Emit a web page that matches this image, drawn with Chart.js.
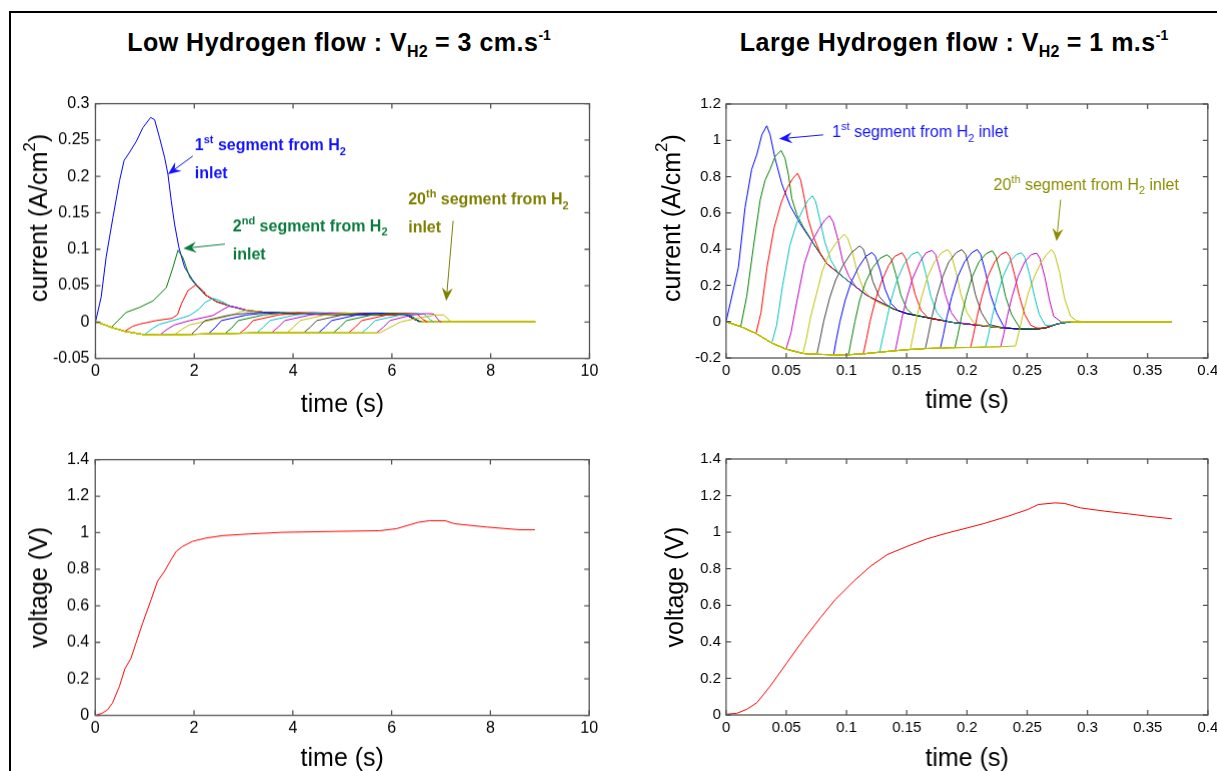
<!DOCTYPE html>
<html><head><meta charset="utf-8">
<script src="https://cdn.jsdelivr.net/npm/chart.js@4.4.0/dist/chart.umd.min.js"></script>
<style>
html,body{margin:0;padding:0;background:#fff;width:1217px;height:771px;overflow:hidden;position:relative;font-family:"Liberation Sans",Arial,sans-serif}
.frame{position:absolute;left:9px;top:11px;width:1230px;height:790px;border-top:2px solid #000;border-left:2px solid #000}
.panel{position:absolute;left:0;top:0}
.title{position:absolute;font-weight:bold;font-size:25px;letter-spacing:0.5px;white-space:nowrap;transform:translateX(-50%);color:#000;line-height:30px}
.title sub{font-size:16px;vertical-align:-6px;letter-spacing:0}
.title sup{font-size:14px;vertical-align:11px;letter-spacing:0}
</style></head><body>
<div class="frame"></div>
<div class="title" style="left:339px;top:20px">Low Hydrogen flow : V<sub>H2</sub> = 3 cm.s<sup>-1</sup></div>
<div class="title" style="left:954px;top:20px">Large Hydrogen flow : V<sub>H2</sub> = 1 m.s<sup>-1</sup></div>
<div class="panel" id="pTL"><canvas></canvas></div>
<div class="panel" id="pTR"><canvas></canvas></div>
<div class="panel" id="pBL"><canvas></canvas></div>
<div class="panel" id="pBR"><canvas></canvas></div>
<script>
// ---------- tick values and labels ----------
const lowTimeTicks = [0,2,4,6,8,10];
const lowTimeLabels = ['0','2','4','6','8','10'];
const largeTimeTicks = [0,0.05,0.1,0.15,0.2,0.25,0.3,0.35,0.4];
const largeTimeLabels = ['0','0.05','0.1','0.15','0.2','0.25','0.3','0.35','0.4'];
const lowCurrentTicks = [-0.05,0,0.05,0.1,0.15,0.2,0.25,0.3];
const lowCurrentLabels = ['-0.05','0','0.05','0.1','0.15','0.2','0.25','0.3'];
const largeCurrentTicks = [-0.2,0,0.2,0.4,0.6,0.8,1,1.2];
const largeCurrentLabels = ['-0.2','0','0.2','0.4','0.6','0.8','1','1.2'];
const voltageTicks = [0,0.2,0.4,0.6,0.8,1,1.2,1.4];
const voltageLabels = ['0','0.2','0.4','0.6','0.8','1','1.2','1.4'];

// ---------- low hydrogen flow : current per segment [time s, current A/cm2] ----------
const lowBottomEnvelope = [[0,0],[0.15,-0.003],[0.32,-0.0073],[0.59,-0.0128],[0.99,-0.0175],[1.3,-0.018],[1.6,-0.0175],[1.94,-0.017],[2.28,-0.0165],[2.62,-0.016],[2.92,-0.0155],[3.26,-0.015],[3.56,-0.015],[3.87,-0.015],[4.21,-0.015],[4.51,-0.015],[4.81,-0.015],[5.12,-0.015],[5.39,-0.015],[5.69,-0.015],[5.76,-0.0148]];
const lowDecayEnvelope = [[2.21,0.038],[2.45,0.028],[2.72,0.022],[3.06,0.016],[3.46,0.013],[3.94,0.0115],[4.61,0.0105],[5.29,0.0105],[5.96,0.0102],[6.3,0.0095],[6.45,0.004],[6.6,0],[8.9,0]];
const low01 = [[0,0],[0.115,0.034],[0.216,0.089],[0.352,0.143],[0.487,0.194],[0.58,0.222],[0.68,0.232],[0.825,0.248],[0.96,0.267],[1.116,0.281],[1.197,0.278],[1.298,0.253],[1.4,0.226],[1.467,0.203],[1.535,0.166],[1.602,0.134],[1.69,0.102],[1.805,0.075],[1.974,0.057]];
const low02 = [[0.32,-0.0073],[0.453,0.0018],[0.622,0.0132],[0.892,0.02],[1.163,0.029],[1.433,0.047],[1.569,0.075],[1.67,0.0986],[1.77,0.0886],[1.91,0.061],[2.04,0.05]];
const low03 = [[0.59,-0.0128],[0.75,-0.006],[0.89,-0.003],[1.23,0.002],[1.55,0.005],[1.66,0.01],[1.74,0.025],[1.87,0.043],[2.03,0.051],[2.11,0.047],[2.2,0.041]];
const low04 = [[0.99,-0.0175],[1.15,-0.009],[1.3,-0.003],[1.57,0.002],[1.91,0.009],[2.1,0.018],[2.22,0.027],[2.38,0.0325],[2.5,0.03],[2.62,0.026],[2.7,0.0225]];
const low05 = [[1.3,-0.018],[1.45,-0.01],[1.6,-0.004],[1.91,0.002],[2.38,0.009],[2.55,0.016],[2.7,0.0215],[2.85,0.02],[3.0,0.017]];
const low06 = [[1.6,-0.0175],[1.75,-0.01],[1.9,-0.004],[2.3,0.002],[2.75,0.009],[2.95,0.0145],[3.1,0.0165],[3.25,0.015],[3.4,0.0135]];
const low07 = [[1.94,-0.017],[2.08,-0.008],[2.21,0.0018],[2.72,0.0096],[3.12,0.0123],[3.4,0.0135],[3.7,0.0125]];
const low08 = [[2.28,-0.0165],[2.42,-0.008],[2.55,0.002],[3.06,0.0096],[3.46,0.0125],[3.75,0.013],[4.0,0.012]];
const low09 = [[2.62,-0.016],[2.76,-0.008],[2.89,0.002],[3.4,0.0096],[3.8,0.0125],[4.1,0.013],[4.35,0.012]];
const low10 = [[2.92,-0.0155],[3.06,-0.008],[3.19,0.002],[3.7,0.0096],[4.1,0.0123],[4.4,0.013],[4.7,0.012]];
const low11 = [[3.26,-0.015],[3.4,-0.007],[3.53,0.002],[4.04,0.0096],[4.44,0.0123],[4.75,0.0125],[5.0,0.0115]];
const low12 = [[3.56,-0.015],[3.7,-0.007],[3.83,0.002],[4.34,0.0096],[4.74,0.0123],[5.05,0.0125],[5.25,0.0115]];
const low13 = [[3.87,-0.015],[4.01,-0.007],[4.14,0.002],[4.65,0.0096],[5.05,0.0122],[5.35,0.0123],[5.65,0.0112]];
const low14 = [[4.21,-0.015],[4.35,-0.007],[4.48,0.002],[4.99,0.0096],[5.39,0.0122],[5.7,0.0122],[5.9,0.011]];
const low15 = [[4.51,-0.015],[4.65,-0.007],[4.78,0.002],[5.29,0.0096],[5.69,0.0122],[6.0,0.0118],[6.25,0.011]];
const low16 = [[4.81,-0.015],[4.95,-0.007],[5.08,0.002],[5.59,0.0096],[5.99,0.012],[6.3,0.0115],[6.45,0.006],[6.55,0]];
const low17 = [[5.12,-0.015],[5.26,-0.007],[5.39,0.002],[5.9,0.0096],[6.3,0.012],[6.5,0.0115],[6.62,0.004],[6.72,0]];
const low18 = [[5.39,-0.015],[5.53,-0.007],[5.66,0.002],[6.17,0.0096],[6.5,0.0118],[6.65,0.011],[6.78,0.003],[6.85,0]];
const low19 = [[5.69,-0.015],[5.83,-0.007],[5.96,0.002],[6.4,0.0096],[6.7,0.0115],[6.85,0.011],[6.95,0.002],[7.0,0]];
const low20 = [[5.76,-0.0148],[6.17,0],[6.5,0.005],[6.88,0.0096],[7.05,0.0096],[7.2,0]];

// ---------- large hydrogen flow : current per segment [time s, current A/cm2] ----------
const largeBottomEnvelope = [[0,0],[0.0122,-0.027],[0.0249,-0.065],[0.038,-0.118],[0.0499,-0.151],[0.0638,-0.175],[0.0754,-0.18],[0.0893,-0.182],[0.1017,-0.182],[0.114,-0.177],[0.1275,-0.168],[0.1405,-0.16],[0.153,-0.153],[0.1655,-0.148],[0.178,-0.145],[0.19,-0.143],[0.203,-0.142],[0.2154,-0.14],[0.228,-0.138],[0.2403,-0.134]];
const largeDecayEnvelope = [[0.0726,0.43],[0.0837,0.32],[0.1003,0.23],[0.117,0.145],[0.139,0.07],[0.15,0.045],[0.161,0.03],[0.175,0.012],[0.189,-0.005],[0.203,-0.015],[0.217,-0.025],[0.231,-0.035],[0.244,-0.04],[0.255,-0.042],[0.265,-0.035],[0.275,-0.012],[0.286,0],[0.37,0]];
const large01 = [[0,0],[0.0103,0.3],[0.0158,0.63],[0.0213,0.84],[0.0255,0.92],[0.0297,1.03],[0.0338,1.08],[0.0366,1.03],[0.0407,0.9],[0.0463,0.76],[0.0532,0.64],[0.0615,0.54]];
const large02 = [[0.0122,-0.027],[0.0172,0.14],[0.0227,0.41],[0.0283,0.67],[0.0324,0.78],[0.0366,0.84],[0.0407,0.91],[0.0457,0.944],[0.049,0.9],[0.0518,0.81],[0.0546,0.68],[0.0588,0.59],[0.0643,0.52],[0.07,0.46]];
const large03 = [[0.0249,-0.065],[0.029,0.05],[0.034,0.3],[0.04,0.52],[0.046,0.66],[0.051,0.74],[0.0555,0.79],[0.0593,0.818],[0.062,0.78],[0.065,0.68],[0.068,0.57],[0.0725,0.47],[0.078,0.38]];
const large04 = [[0.038,-0.118],[0.042,-0.02],[0.047,0.2],[0.053,0.42],[0.059,0.55],[0.064,0.62],[0.068,0.67],[0.0718,0.694],[0.0745,0.66],[0.078,0.56],[0.082,0.44],[0.087,0.34],[0.093,0.27]];
const large05 = [[0.0499,-0.151],[0.054,-0.06],[0.059,0.12],[0.065,0.32],[0.071,0.44],[0.077,0.51],[0.082,0.56],[0.0859,0.585],[0.089,0.55],[0.093,0.45],[0.097,0.33],[0.102,0.25],[0.108,0.19]];
const large06 = [[0.0638,-0.175],[0.0665,-0.1],[0.07,0.02],[0.075,0.15],[0.08,0.28],[0.086,0.38],[0.092,0.44],[0.0981,0.482],[0.101,0.46],[0.105,0.38],[0.109,0.27],[0.114,0.18],[0.12,0.13],[0.128,0.1]];
const large07 = [[0.0754,-0.18],[0.078,-0.1],[0.081,0],[0.086,0.13],[0.091,0.23],[0.097,0.31],[0.104,0.38],[0.1109,0.418],[0.114,0.4],[0.118,0.32],[0.122,0.22],[0.127,0.14],[0.133,0.095]];
const large08 = [[0.0893,-0.182],[0.0915,-0.1],[0.0945,0],[0.099,0.12],[0.104,0.22],[0.11,0.3],[0.116,0.36],[0.1211,0.382],[0.124,0.36],[0.128,0.28],[0.132,0.18],[0.137,0.1],[0.143,0.06]];
const large09 = [[0.1017,-0.182],[0.104,-0.1],[0.107,0],[0.111,0.12],[0.116,0.22],[0.122,0.3],[0.128,0.35],[0.1336,0.369],[0.137,0.35],[0.141,0.26],[0.145,0.15],[0.15,0.07],[0.156,0.035]];
const large10 = [[0.114,-0.177],[0.1165,-0.1],[0.1195,0],[0.124,0.12],[0.129,0.22],[0.135,0.31],[0.14,0.36],[0.1461,0.38],[0.149,0.35],[0.153,0.26],[0.157,0.15],[0.162,0.06],[0.168,0.02]];
const large11 = [[0.1275,-0.168],[0.13,-0.09],[0.133,0],[0.137,0.12],[0.142,0.23],[0.148,0.32],[0.154,0.37],[0.1591,0.385],[0.162,0.36],[0.166,0.26],[0.17,0.14],[0.175,0.05],[0.181,0.005]];
const large12 = [[0.1405,-0.16],[0.143,-0.08],[0.146,0.02],[0.15,0.13],[0.155,0.24],[0.161,0.33],[0.166,0.38],[0.171,0.393],[0.174,0.37],[0.178,0.27],[0.182,0.15],[0.187,0.05],[0.193,-0.005]];
const large13 = [[0.153,-0.153],[0.1555,-0.07],[0.1585,0.03],[0.1625,0.14],[0.1675,0.25],[0.173,0.33],[0.179,0.38],[0.184,0.398],[0.187,0.37],[0.191,0.27],[0.195,0.15],[0.2,0.05],[0.206,-0.01]];
const large14 = [[0.1655,-0.148],[0.168,-0.07],[0.171,0.03],[0.175,0.14],[0.18,0.25],[0.185,0.33],[0.191,0.38],[0.1957,0.398],[0.199,0.37],[0.203,0.27],[0.207,0.15],[0.212,0.05],[0.218,-0.015]];
const large15 = [[0.178,-0.145],[0.1805,-0.07],[0.1835,0.03],[0.1875,0.14],[0.1925,0.25],[0.198,0.33],[0.204,0.38],[0.2085,0.398],[0.2115,0.37],[0.2155,0.27],[0.2195,0.15],[0.2245,0.05],[0.23,-0.02]];
const large16 = [[0.19,-0.143],[0.1925,-0.07],[0.1955,0.03],[0.1995,0.14],[0.2045,0.25],[0.21,0.33],[0.216,0.375],[0.221,0.391],[0.224,0.36],[0.228,0.26],[0.232,0.14],[0.237,0.04],[0.243,-0.025]];
const large17 = [[0.203,-0.142],[0.2055,-0.07],[0.2085,0.03],[0.2125,0.14],[0.2175,0.25],[0.223,0.33],[0.228,0.37],[0.2326,0.385],[0.2355,0.36],[0.2395,0.26],[0.2435,0.14],[0.248,0.04],[0.253,-0.02],[0.258,-0.035]];
const large18 = [[0.2154,-0.14],[0.218,-0.07],[0.221,0.03],[0.225,0.14],[0.23,0.25],[0.2355,0.33],[0.241,0.37],[0.2453,0.38],[0.248,0.355],[0.252,0.26],[0.256,0.14],[0.26,0.04],[0.265,-0.02],[0.27,-0.02]];
const large19 = [[0.228,-0.138],[0.2305,-0.07],[0.2335,0.03],[0.2375,0.14],[0.2425,0.25],[0.248,0.33],[0.2535,0.37],[0.2578,0.378],[0.2605,0.35],[0.2645,0.25],[0.2685,0.12],[0.272,0.03],[0.278,0]];
const large20 = [[0.2403,-0.134],[0.2445,-0.02],[0.2475,0.07],[0.251,0.16],[0.256,0.25],[0.261,0.32],[0.266,0.37],[0.2703,0.398],[0.273,0.37],[0.277,0.27],[0.281,0.13],[0.286,0.03],[0.291,0.005],[0.297,0]];

// ---------- voltages [time s, voltage V] ----------
const lowVoltage = [[0,0],[0.149,0.013],[0.25,0.031],[0.35,0.068],[0.49,0.159],[0.6,0.255],[0.72,0.31],[0.825,0.396],[0.96,0.505],[1.13,0.633],[1.26,0.734],[1.4,0.788],[1.535,0.852],[1.64,0.898],[1.77,0.925],[1.97,0.953],[2.245,0.971],[2.58,0.984],[3.12,0.993],[3.8,1.002],[4.85,1.007],[5.76,1.011],[6.1,1.022],[6.54,1.057],[6.77,1.066],[7.08,1.066],[7.28,1.049],[7.92,1.031],[8.6,1.016],[8.9,1.016]];
const largeVoltage = [[0,0.004],[0.0089,0.009],[0.0172,0.031],[0.0256,0.067],[0.0367,0.158],[0.0506,0.286],[0.0644,0.413],[0.0783,0.532],[0.0908,0.632],[0.106,0.732],[0.12,0.814],[0.134,0.878],[0.1506,0.923],[0.167,0.964],[0.184,0.996],[0.2006,1.024],[0.214,1.047],[0.234,1.087],[0.2506,1.124],[0.259,1.151],[0.273,1.16],[0.281,1.157],[0.294,1.133],[0.314,1.115],[0.334,1.1],[0.35,1.087],[0.37,1.073]];

const lowSegments = [low01,low02,low03,low04,low05,low06,low07,low08,low09,low10,low11,low12,low13,low14,low15,low16,low17,low18,low19,low20];
const largeSegments = [large01,large02,large03,large04,large05,large06,large07,large08,large09,large10,large11,large12,large13,large14,large15,large16,large17,large18,large19,large20];
const segmentColors = ['#0000ff','#008000','#ff0000','#00bfbf','#bf00bf','#bfbf00','#404040'];

// annotations (anchors in data units)
const lowNotes = [
  {t:2.01, v:0.236, color:'#1414ff', lines:[[['1'],['st','sup'],[' segment from H'],['2','sub']],[['inlet']]], arrow:[[1.97,0.228],[1.467,0.203]]},
  {t:2.78, v:0.125, color:'#0a7d3c', lines:[[['2'],['nd','sup'],[' segment from H'],['2','sub']],[['inlet']]], arrow:[[2.62,0.107],[1.78,0.101]]},
  {t:6.33, v:0.162, color:'#7f7f00', lines:[[['20'],['th','sup'],[' segment from H'],['2','sub']],[['inlet']]], arrow:[[7.24,0.139],[7.1,0.029]]}
];
const largeNotes = [
  {t:0.0881, v:1.019, color:'#1414ff', lines:[[['1'],['st','sup'],[' segment from H'],['2','sub'],[' inlet']]], arrow:[[0.0807,1.03],[0.0441,1.008]]},
  {t:0.222, v:0.728, color:'#8c8c00', lines:[[['20'],['th','sup'],[' segment from H'],['2','sub'],[' inlet']]], arrow:[[0.2778,0.673],[0.2744,0.443]]}
];
const currentTitle = [['current (A/cm'],['2','sup'],[')']];

// ---------- helpers ----------
const FAM = '"Liberation Sans", Arial, sans-serif';

function drawRich(ctx, parts, x, y, size, weight, center) {
  const items = parts.map(([txt, kind]) => {
    const s = kind ? Math.round(size * 0.68) : size;
    ctx.font = weight + ' ' + s + 'px ' + FAM;
    return {txt, kind, s, w: ctx.measureText(txt).width};
  });
  let cx = center ? x - items.reduce((a, b) => a + b.w, 0) / 2 : x;
  items.forEach(it => {
    ctx.font = weight + ' ' + it.s + 'px ' + FAM;
    const dy = it.kind === 'sup' ? -size * 0.42 : (it.kind === 'sub' ? size * 0.3 : 0);
    ctx.fillText(it.txt, cx, y + dy);
    cx += it.w;
  });
}

const boxPlugin = {
  id: 'mbox',
  afterDraw(chart) {
    const {ctx, chartArea: a, scales: {x, y}} = chart;
    ctx.save();
    ctx.strokeStyle = '#555';
    ctx.lineWidth = 1.3;
    ctx.strokeRect(a.left, a.top, a.right - a.left, a.bottom - a.top);
    ctx.beginPath();
    const L = 5;
    x.ticks.forEach(t => {
      const px = x.getPixelForValue(t.value);
      ctx.moveTo(px, a.bottom); ctx.lineTo(px, a.bottom - L);
      ctx.moveTo(px, a.top); ctx.lineTo(px, a.top + L);
    });
    y.ticks.forEach(t => {
      const py = y.getPixelForValue(t.value);
      ctx.moveTo(a.left, py); ctx.lineTo(a.left + L, py);
      ctx.moveTo(a.right, py); ctx.lineTo(a.right - L, py);
    });
    ctx.stroke();
    ctx.restore();
  }
};

function titlesPlugin(xText, xOffset, yParts, yOffset, yShift) {
  return {
    id: 'axtitles',
    afterDraw(chart) {
      const {ctx, chartArea: a} = chart;
      ctx.save();
      ctx.fillStyle = '#000';
      ctx.textBaseline = 'middle';
      drawRich(ctx, [[xText]], (a.left + a.right) / 2, a.bottom + xOffset, 25, 'normal', true);
      ctx.translate(a.left - yOffset, (a.top + a.bottom) / 2 + yShift);
      ctx.rotate(-Math.PI / 2);
      drawRich(ctx, yParts, 0, 0, 25, 'normal', true);
      ctx.restore();
    }
  };
}

function notesPlugin(notes, size, weight, lineGap) {
  return {
    id: 'notes',
    afterDatasetsDraw(chart) {
      const {ctx, scales: {x, y}} = chart;
      ctx.save();
      ctx.textBaseline = 'alphabetic';
      notes.forEach(n => {
        ctx.fillStyle = n.color; ctx.strokeStyle = n.color;
        const x0 = x.getPixelForValue(n.t);
        let y0 = y.getPixelForValue(n.v);
        n.lines.forEach(line => { drawRich(ctx, line, x0, y0, size, weight, false); y0 += lineGap; });
        const [p0, p1] = n.arrow;
        const ax = x.getPixelForValue(p0[0]), ay = y.getPixelForValue(p0[1]);
        const bx = x.getPixelForValue(p1[0]), by = y.getPixelForValue(p1[1]);
        const len = Math.hypot(bx - ax, by - ay), ux = (bx - ax) / len, uy = (by - ay) / len;
        const HL = 13, HW = 5.5;
        ctx.lineWidth = 1;
        ctx.beginPath(); ctx.moveTo(ax, ay); ctx.lineTo(bx - ux * HL * 0.6, by - uy * HL * 0.6); ctx.stroke();
        ctx.beginPath();
        ctx.moveTo(bx, by);
        ctx.lineTo(bx - ux * HL - uy * HW, by - uy * HL + ux * HW);
        ctx.lineTo(bx - ux * HL * 0.65, by - uy * HL * 0.65);
        ctx.lineTo(bx - ux * HL + uy * HW, by - uy * HL - ux * HW);
        ctx.closePath(); ctx.fill();
      });
      ctx.restore();
    }
  };
}

function axis(min, max, ticks, labels, tickFont, tickPad) {
  return {
    type: 'linear', min, max,
    afterBuildTicks: s => { s.ticks = ticks.map(v => ({value: v})); },
    ticks: {autoSkip: false, maxRotation: 0, padding: tickPad, color: '#000', font: tickFont,
            callback: (v, i) => labels[i]},
    grid: {display: false, drawTicks: false},
    border: {display: false},
    title: {display: false}
  };
}

function mount(id, target, datasets, xAxis, yAxis, extraPlugins) {
  const wrap = document.getElementById(id);
  const canvas = wrap.querySelector('canvas');
  const W0 = 700, H0 = 460;
  canvas.width = W0; canvas.height = H0;
  const chart = new Chart(canvas, {
    type: 'line',
    data: {datasets},
    options: {
      responsive: false, maintainAspectRatio: false, animation: false, devicePixelRatio: 1,
      layout: {padding: {left: 90, bottom: 70, top: 10, right: 20}},
      plugins: {legend: {display: false}, tooltip: {enabled: false}, title: {display: false}},
      elements: {point: {radius: 0}, line: {borderWidth: 1, tension: 0}},
      scales: {x: xAxis, y: yAxis}
    },
    plugins: [boxPlugin].concat(extraPlugins)
  });
  const a = chart.chartArea;
  chart.resize(W0 + (target.right - target.left) - (a.right - a.left), H0 + (target.bottom - target.top) - (a.bottom - a.top));
  const b = chart.chartArea;
  wrap.style.left = (target.left - b.left) + 'px';
  wrap.style.top = (target.top - b.top) + 'px';
  return chart;
}

const leftTick = {family: FAM, size: 16};
const rightTick = {family: FAM, size: 15};

function segDatasets(segs, env, decay) {
  const topColor = segmentColors[(segs.length - 1) % 7];
  return segs.map((own, i) => {
    const first = own[0][0], last = own[own.length - 1][0];
    const pre = env.filter(p => p[0] < first);
    const pts = pre.concat(own, decay.filter(p => p[0] > last)).map(p => ({x: p[0], y: p[1]}));
    const k = pre.length;
    return {
      data: pts,
      borderColor: segmentColors[i % 7], borderWidth: 1, pointRadius: 0, fill: false,
      order: segs.length - i,
      // shared stretches (before the front arrives, and the final zero level) show the colour of the last-drawn segment
      segment: {borderColor: c => (c.p1DataIndex <= k || (c.p0.parsed.y === 0 && c.p1.parsed.y === 0 && c.p0DataIndex > 0)) ? topColor : undefined}
    };
  });
}

mount('pTL', {left: 95, top: 104, right: 589, bottom: 358},
  segDatasets(lowSegments, lowBottomEnvelope, lowDecayEnvelope),
  axis(0, 10, lowTimeTicks, lowTimeLabels, leftTick, 3),
  axis(-0.05, 0.3, lowCurrentTicks, lowCurrentLabels, leftTick, 6),
  [notesPlugin(lowNotes, 16, 'bold', 28), titlesPlugin('time (s)', 47, currentTitle, 55, -13)]);

mount('pTR', {left: 726, top: 104, right: 1207, bottom: 358},
  segDatasets(largeSegments, largeBottomEnvelope, largeDecayEnvelope),
  axis(0, 0.4, largeTimeTicks, largeTimeLabels, rightTick, 4),
  axis(-0.2, 1.2, largeCurrentTicks, largeCurrentLabels, rightTick, 5),
  [notesPlugin(largeNotes, 16, 'normal', 20), titlesPlugin('time (s)', 43, currentTitle, 53, -13)]);

mount('pBL', {left: 95, top: 460, right: 589, bottom: 715},
  [{data: lowVoltage.map(p => ({x: p[0], y: p[1]})), borderColor: '#ff0000', borderWidth: 1, pointRadius: 0, fill: false}],
  axis(0, 10, lowTimeTicks, lowTimeLabels, leftTick, 3),
  axis(0, 1.4, voltageTicks, voltageLabels, leftTick, 6),
  [titlesPlugin('time (s)', 44, [['voltage (V)']], 55, 0)]);

mount('pBR', {left: 726, top: 459, right: 1207, bottom: 715},
  [{data: largeVoltage.map(p => ({x: p[0], y: p[1]})), borderColor: '#ff0000', borderWidth: 1, pointRadius: 0, fill: false}],
  axis(0, 0.4, largeTimeTicks, largeTimeLabels, rightTick, 4),
  axis(0, 1.4, voltageTicks, voltageLabels, rightTick, 5),
  [titlesPlugin('time (s)', 44, [['voltage (V)']], 50, 0)]);
</script>
</body></html>
